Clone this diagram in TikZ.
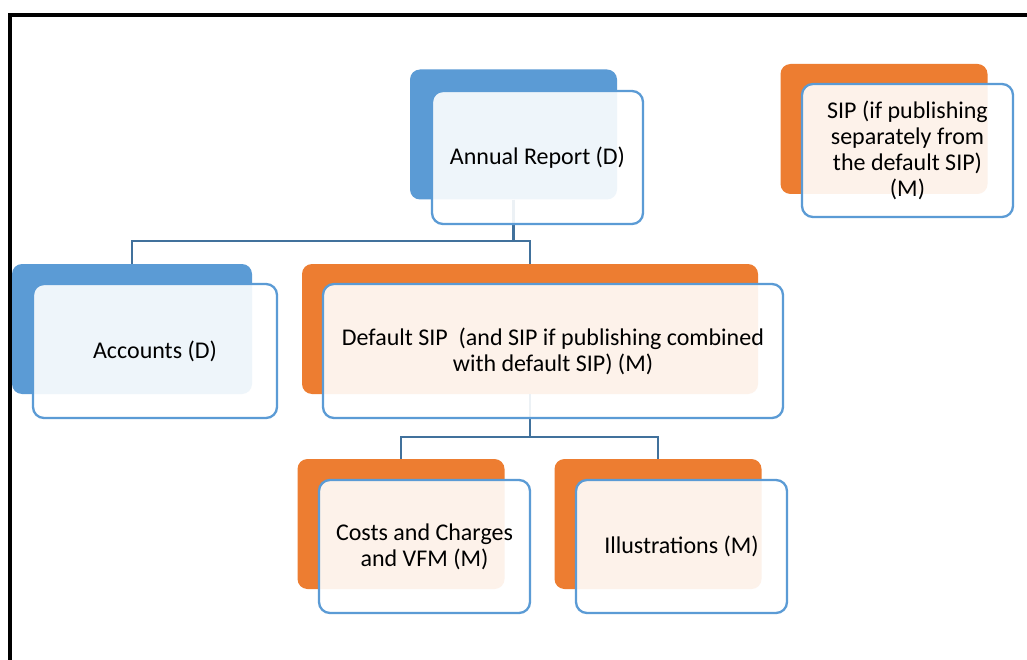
\documentclass[tikz,border=0pt]{standalone}
\usepackage{fontspec}
\setmainfont{Carlito}
\definecolor{ablue}{HTML}{5B9BD5}
\definecolor{aorange}{HTML}{ED7D31}
\definecolor{lnblue}{RGB}{65,113,156}
\begin{document}
\begin{tikzpicture}[x=1pt,y=-1pt,
  backbox/.style={rectangle,rounded corners=10pt,inner sep=0pt,minimum width=207pt,minimum height=130pt},
  blueback/.style={backbox,fill=ablue},
  orangeback/.style={backbox,fill=aorange},
  frontbox/.style={rectangle,rounded corners=11pt,inner sep=0pt,minimum width=211pt,minimum height=133pt,
     draw=ablue,line width=2.3pt,fill=white,fill opacity=0.9,text opacity=1,align=center,
     font=\fontsize{24}{26}\selectfont},
  conn/.style={draw=lnblue,line width=2.5pt,line join=miter}]
\useasboundingbox (0,0) rectangle (1027,660);
\clip (0,0) rectangle (1027,660);
\fill[white] (0,0) rectangle (1027,660);
% frame
\draw[line width=4pt,black] (10,700) -- (10,15.5) -- (1060,15.5);
% back boxes
\node[blueback] (bA) at (513.5,134.5) {};
\node[orangeback] (bS) at (884,129) {};
\node[blueback,minimum width=240pt] (bAcc) at (132,329) {};
\node[orangeback,minimum width=456pt] (bD) at (530,329) {};
\node[orangeback] (bC) at (401,524) {};
\node[orangeback] (bI) at (658,524) {};
% connectors
\coordinate (j1) at (513.5,241);
\coordinate (j2) at (530,437);
\draw[conn] (bA.south) -- (bA.south |- j1);
\draw[conn] (bAcc.north) |- (bD.north |- j1) -- (bD.north);
\draw[conn] (bD.south) -- (j2);
\draw[conn] (bC.north) |- (bI.north |- j2) -- (bI.north);
% front boxes
\node[frontbox] (fA) at (537.5,157.5) {Annual Report (D)};
\node[frontbox] (fS) at (907.5,150.5) {SIP (if publishing\\separately from\\the default SIP)\\(M)};
\node[frontbox,minimum width=244pt,minimum height=134pt] (fAcc) at (155,351) {Accounts (D)};
\node[frontbox,minimum width=460pt,minimum height=134pt] (fD) at (553,351) {Default SIP\ \ (and SIP if publishing combined\\with default SIP) (M)};
\node[frontbox] (fC) at (424.5,546.5) {Costs and Charges\\and VFM (M)};
\node[frontbox] (fI) at (681.5,546.5) {Illustrations (M)};
\end{tikzpicture}
\end{document}
